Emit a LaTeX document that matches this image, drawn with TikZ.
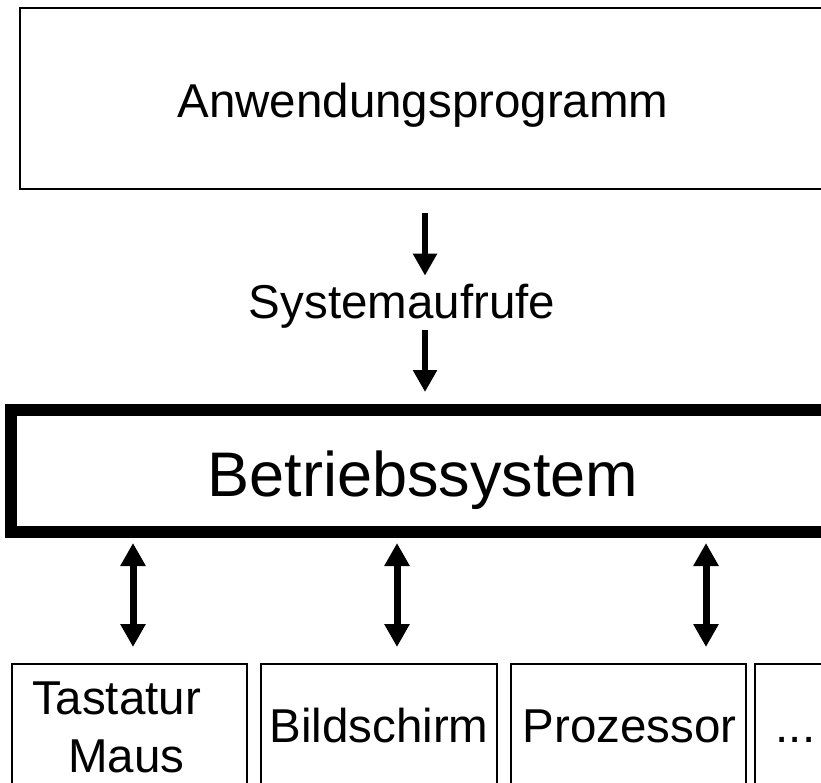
\documentclass[tikz,border=0pt]{standalone}
\usepackage{fontspec}
\setmainfont{Liberation Sans}
\usetikzlibrary{arrows.meta,calc}
\tikzset{
  boxthin/.style={draw=black, line width=2pt, inner sep=0pt, outer sep=0pt},
  boxthick/.style={draw=black, line width=12pt, inner sep=0pt, outer sep=0pt},
  lbl/.style={inner sep=0pt, outer sep=0pt, anchor=base, font=\fontsize{47.5}{57}\selectfont},
  biglbl/.style={inner sep=0pt, outer sep=0pt, anchor=base, font=\fontsize{63}{75}\selectfont},
  arr/.style={line width=6pt, -{Triangle[width=23pt,length=22pt]}},
  dblarr/.style={line width=7pt, {Triangle[width=24pt,length=23pt]}-{Triangle[width=24pt,length=23pt]}}
}
\begin{document}
\begin{tikzpicture}[x=1pt,y=-1pt]
\useasboundingbox (0,0) rectangle (821,782);
\clip (0,0) rectangle (821,782);
\fill[white] (0,0) rectangle (821,782);
% top box
\node[boxthin, minimum width=807pt, minimum height=181pt] (app) at (423.5,98.5) {};
\node[lbl] (apptxt) at (423,117) {Anwendungsprogramm};
% system calls label
\node[lbl] (sys) at (402,318) {Systemaufrufe};
% operating system box
\node[boxthick, minimum width=824pt, minimum height=122pt] (os) at (423,471) {};
\node[biglbl] (ostxt) at (423,496) {Betriebssystem};
% arrows top
\draw[arr] ($(app.south)+(1.5,24)$) -- ($(sys.north)+(23,-8)$);
\draw[arr] ($(sys.south)+(23,2)$) -- ($(os.north)+(2,-18)$);
% bottom boxes
\node[boxthin, minimum width=235pt, minimum height=146pt] (b1) at (129.5,737) {};
\node[boxthin, minimum width=236pt, minimum height=146pt] (b2) at (379,737) {};
\node[boxthin, minimum width=235pt, minimum height=146pt] (b3) at (628.5,737) {};
\node[boxthin, minimum width=235pt, minimum height=146pt] (b4) at (872.5,737) {};
\node[lbl] (t1a) at (116.5,714) {Tastatur};
\node[lbl] (t1b) at (126.5,772) {Maus};
\node[lbl] (t2) at (379,742) {Bildschirm};
\node[lbl] (t3) at (629.5,742) {Prozessor};
\node[lbl] (t4) at (795.5,742) {...};
% double arrows
\draw[dblarr] ($(os.south)+(-290,11)$) -- ($(b1.north)+(3.5,-17)$);
\draw[dblarr] ($(os.south)+(-26,11)$) -- ($(b2.north)+(18,-17)$);
\draw[dblarr] ($(os.south)+(283,11)$) -- ($(b3.north)+(77.5,-17)$);
\end{tikzpicture}
\end{document}
